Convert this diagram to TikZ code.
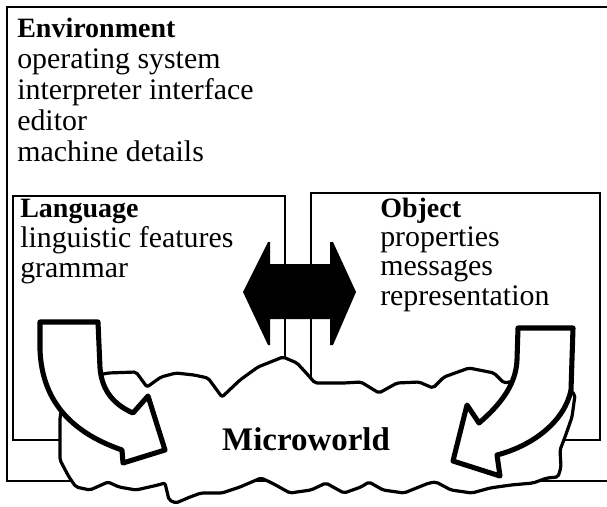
\documentclass[tikz,border=0pt]{standalone}
\usepackage{fontspec}
\setmainfont{Liberation Serif}
\begin{document}
\begin{tikzpicture}[x=0.75pt,y=-0.75pt]
\tikzset{
  frame/.style={draw=black, line width=1.5pt},
  headtext/.style={anchor=base west, inner sep=0pt, font=\fontsize{21}{23}\selectfont\bfseries},
  linetext/.style={anchor=base west, inner sep=0pt, font=\fontsize{22.4}{24}\selectfont},
  cloudline/.style={draw=black, fill=white, line width=2.4pt, line join=round, rounded corners=1.5pt},
  bentarrow/.style={draw=black, fill=white, line width=3.8pt, line join=round},
}
\useasboundingbox (0,0) rectangle (607,507);
\clip (0,0) rectangle (607,507);
% boxes
\draw[frame] (7,7) rectangle (614,481);
\draw[frame] (13,196) rectangle (285,440);
\draw[frame] (311,193) rectangle (600,440);
% texts of the boxes
\node[headtext] (Env) at (17,37) {Environment};
\node[linetext] (Env1) at ([yshift=-23.25pt]Env.base west) {operating system};
\node[linetext] (Env2) at ([yshift=-23.25pt]Env1.base west) {interpreter interface};
\node[linetext] (Env3) at ([yshift=-23.25pt]Env2.base west) {editor};
\node[linetext] (Env4) at ([yshift=-23.25pt]Env3.base west) {machine details};
\node[headtext] (Lang) at (20,217) {Language};
\node[linetext] (Lang1) at ([yshift=-22.5pt]Lang.base west) {linguistic features};
\node[linetext] (Lang2) at ([yshift=-22.5pt]Lang1.base west) {grammar};
\node[headtext] (Obj) at (380,217) {Object};
\node[linetext] (Obj1) at ([yshift=-22pt]Obj.base west) {properties};
\node[linetext] (Obj2) at ([yshift=-22pt]Obj1.base west) {messages};
\node[linetext] (Obj3) at ([yshift=-22pt]Obj2.base west) {representation};
% double arrow between the boxes
\fill[black] (243,292) -- (268,242) -- (270,242) -- (270,264) -- (330,264) -- (330,242)
  -- (333,242) -- (356,292) -- (333,345) -- (330,345) -- (330,319) -- (270,319)
  -- (270,345) -- (268,345) -- cycle;
% cloud
\draw[cloudline] (60,417) -- (60,440) -- (60,460) -- (69,477) -- (76,487) -- (90,490)
  -- (108,482) -- (119,487) -- (136,490) -- (158,485) -- (165,483) -- (169,500)
  -- (176,503) -- (190,497) -- (201,493) -- (222,493) -- (240,487) -- (261,478)
  -- (272,483) -- (290,493) -- (311,490) -- (326,483) -- (333,487) -- (344,493)
  -- (361,487) -- (369,482) -- (383,490) -- (404,493) -- (429,483) -- (436,482)
  -- (451,490) -- (472,493) -- (490,488) -- (511,485) -- (533,483) -- (547,478)
  -- (558,477) -- (561,467) -- (560,450) -- (565,437) -- (572,417) -- (575,395)
  -- (560,380) -- (530,378) -- (504,383) -- (494,373) -- (469,368) -- (444,377)
  -- (433,388) -- (419,382) -- (397,383) -- (379,393) -- (361,382) -- (344,383)
  -- (315,383) -- (308,375) -- (297,363) -- (283,357) -- (258,367) -- (240,380)
  -- (222,397) -- (208,378) -- (194,375) -- (176,373) -- (161,377) -- (147,387)
  -- (136,372) -- (108,373) -- (85,378) -- (65,395) -- cycle;
% bent arrows into the cloud
\draw[bentarrow] (40,322) -- (98,322) -- (100,368) .. controls (102,392) and (115,405) .. (133,413)
  -- (148,396) -- (165,450) -- (123,463) -- (122,450)
  .. controls (70,432) and (42,400) .. (40,350) -- cycle;
\draw[bentarrow] (518,328) -- (573,328) -- (571,390) .. controls (565,420) and (535,445) .. (497,455)
  -- (500,476) -- (453,461) -- (467,405) -- (479,423)
  .. controls (500,405) and (516,385) .. (517,360) -- cycle;
\node[font=\fontsize{24.7}{26}\selectfont\bfseries] (Mw) at (306,439) {Microworld};
\end{tikzpicture}
\end{document}
